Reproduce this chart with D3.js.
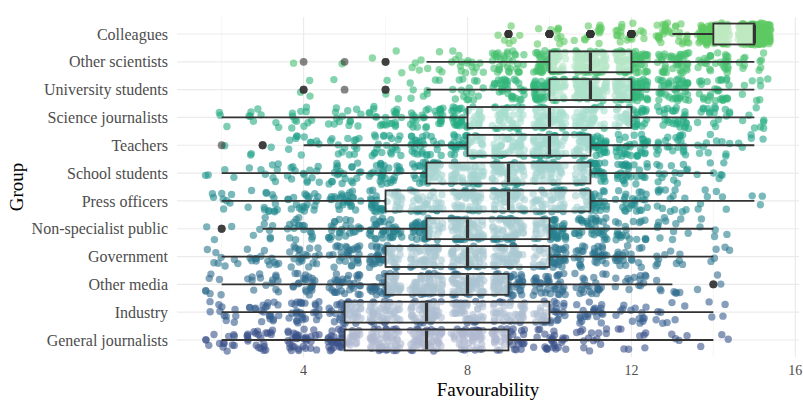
<!doctype html>
<html lang="en">
<head>
  <meta charset="utf-8">
  <title>Favourability by group</title>
  <style>
    body { margin: 0; background: #fff; }
    svg text { font-family: "Liberation Serif", "DejaVu Serif", serif; }
    .grid-major { stroke: #ebebeb; stroke-width: 1.2; }
    .grid-minor { stroke: #f2f2f2; stroke-width: 0.7; }
    .tick-label { fill: #4d4d4d; font-size: 14px; }
    .group-label { fill: #4d4d4d; font-size: 16px; }
    .axis-title { fill: #000; font-size: 19px; }
    .pt { opacity: 0.6; }
    .box { fill: #fff; fill-opacity: 0.6; stroke: #333; stroke-width: 1.8; }
    .whisker { stroke: #333; stroke-width: 1.8; }
    .median { stroke: #333; stroke-width: 3.2; }
    .outlier { fill: #333; opacity: 0.6; }
  </style>
</head>
<body>
<div id="chart"></div>
<script src="https://d3js.org/d3.v7.min.js"></script>
<script>
// groups, top to bottom as shown on the chart
const groups = ['Colleagues', 'Other scientists', 'University students', 'Science journalists',
  'Teachers', 'School students', 'Press officers', 'Non-specialist public', 'Government',
  'Other media', 'Industry', 'General journalists'];

// favourability scores the respondents could give
const scores = [2, 3, 4, 5, 6, 7, 8, 9, 10, 11, 12, 13, 14, 15];

// number of responses per score (2..15)
const colleagues          = [0, 0, 0, 0, 0, 0, 0, 6, 10, 13, 18, 32, 95, 200];
const otherScientists     = [0, 0, 1, 1, 3, 8, 16, 34, 62, 76, 70, 42, 28, 10];
const universityStudents  = [0, 0, 3, 1, 3, 8, 16, 34, 62, 76, 70, 42, 28, 8];
const scienceJournalists  = [3, 8, 11, 14, 22, 28, 42, 42, 49, 42, 39, 28, 17, 8];
const teachers            = [1, 3, 11, 14, 21, 28, 42, 49, 63, 56, 35, 21, 11, 5];
const schoolStudents      = [4, 8, 14, 21, 28, 42, 49, 56, 56, 42, 28, 14, 7, 0];
const pressOfficers       = [8, 14, 20, 25, 35, 39, 42, 45, 42, 39, 25, 14, 7, 3];
const nonSpecialistPublic = [3, 8, 17, 25, 35, 49, 63, 56, 49, 35, 21, 11, 5, 0];
const government          = [8, 14, 21, 28, 42, 49, 53, 49, 42, 31, 20, 10, 5, 0];
const otherMedia          = [7, 14, 22, 31, 45, 56, 63, 53, 35, 22, 14, 7, 3, 0];
const industry            = [11, 20, 28, 39, 45, 49, 45, 39, 31, 21, 14, 8, 4, 0];
const generalJournalists  = [14, 22, 34, 45, 53, 56, 49, 39, 25, 14, 8, 4, 3, 0];

const counts = [colleagues, otherScientists, universityStudents, scienceJournalists,
  teachers, schoolStudents, pressOfficers, nonSpecialistPublic, government,
  otherMedia, industry, generalJournalists];

// box plot statistics per group (same order as groups)
const lowerWhisker = [13, 7, 7, 2, 4, 2, 2, 3, 2, 2, 2, 2];
const lowerHinge   = [14, 10, 10, 8, 8, 7, 6, 7, 6, 6, 5, 5];
const medians      = [15, 11, 11, 10, 10, 9, 9, 8, 8, 8, 7, 7];
const upperHinge   = [15, 12, 12, 12, 11, 11, 11, 10, 10, 9, 10, 9];
const upperWhisker = [15, 15, 15, 15, 15, 14, 15, 14, 14, 13, 14, 14];

const xTicks = [4, 8, 12, 16];
const xMinor = [2, 6, 10, 14];

const width = 803;
const height = 400;
const panel = { left: 177, right: 799, top: 17, bottom: 357 };

const svg = d3.select('#chart')
  .append('svg')
  .attr('width', width)
  .attr('height', height);

const x = d3.scaleLinear()
  .domain([0.91, 16.09])
  .range([panel.left, panel.right]);

const y = d3.scalePoint()
  .domain(groups)
  .range([34, 340]);

const step = y.step();

// colour by group, taken from the middle part of viridis
const colorPos = d3.scaleLinear().domain([groups.length - 1, 0]).range([0.25, 0.75]);
const groupColor = i => d3.interpolateViridis(colorPos(i));

// grid
svg.append('g')
  .selectAll('line')
  .data(xMinor)
  .join('line')
  .attr('class', 'grid-minor')
  .attr('x1', d => x(d)).attr('x2', d => x(d))
  .attr('y1', panel.top).attr('y2', panel.bottom);

svg.append('g')
  .selectAll('line')
  .data(xTicks)
  .join('line')
  .attr('class', 'grid-major')
  .attr('x1', d => x(d)).attr('x2', d => x(d))
  .attr('y1', panel.top).attr('y2', panel.bottom);

svg.append('g')
  .selectAll('line')
  .data(groups)
  .join('line')
  .attr('class', 'grid-major')
  .attr('x1', panel.left).attr('x2', panel.right)
  .attr('y1', d => y(d)).attr('y2', d => y(d));

// expand counts into individual responses; the jitter comes from a fixed integer hash
// so the picture is the same on every run
const hash = n => {
  n = Math.imul(n ^ (n >>> 16), 0x45d9f3b);
  n = Math.imul(n ^ (n >>> 16), 0x45d9f3b);
  n ^= n >>> 16;
  return (n >>> 0) / 4294967296;
};
const points = [];
let idx = 0;
counts.forEach((row, gi) => {
  row.forEach((n, si) => {
    for (let k = 0; k < n; k++) {
      idx++;
      points.push({
        group: groups[gi],
        gi: gi,
        score: scores[si],
        jx: (hash(idx * 2 + 7919) * 2 - 1) * 0.4,
        jy: (hash(idx * 2 + 104729) * 2 - 1) * 0.4
      });
    }
  });
});

svg.append('g')
  .selectAll('circle')
  .data(points)
  .join('circle')
  .attr('class', 'pt')
  .attr('cx', d => x(d.score + d.jx))
  .attr('cy', d => y(d.group) + d.jy * step)
  .attr('r', 3.7)
  .attr('fill', d => groupColor(d.gi));

// box plots
const boxH = step * 0.75;
const boxes = svg.append('g')
  .selectAll('g')
  .data(groups)
  .join('g');

boxes.append('line')
  .attr('class', 'whisker')
  .attr('x1', (d, i) => x(lowerWhisker[i]))
  .attr('x2', (d, i) => x(lowerHinge[i]))
  .attr('y1', d => y(d)).attr('y2', d => y(d));

boxes.append('line')
  .attr('class', 'whisker')
  .attr('x1', (d, i) => x(upperHinge[i]))
  .attr('x2', (d, i) => x(upperWhisker[i]))
  .attr('y1', d => y(d)).attr('y2', d => y(d));

boxes.append('rect')
  .attr('class', 'box')
  .attr('x', (d, i) => x(lowerHinge[i]))
  .attr('width', (d, i) => x(upperHinge[i]) - x(lowerHinge[i]))
  .attr('y', d => y(d) - boxH / 2)
  .attr('height', boxH);

boxes.append('line')
  .attr('class', 'median')
  .attr('x1', (d, i) => x(medians[i])).attr('x2', (d, i) => x(medians[i]))
  .attr('y1', d => y(d) - boxH / 2 + 1)
  .attr('y2', d => y(d) + boxH / 2 - 1);

// outliers: every response outside the whiskers, one semi-transparent dot each
const outliers = points.filter(d => d.score < lowerWhisker[d.gi] || d.score > upperWhisker[d.gi]);
svg.append('g')
  .selectAll('circle')
  .data(outliers)
  .join('circle')
  .attr('class', 'outlier')
  .attr('cx', d => x(d.score))
  .attr('cy', d => y(d.group))
  .attr('r', 3.9);

// axis labels
svg.append('g')
  .selectAll('text')
  .data(groups)
  .join('text')
  .attr('class', 'group-label')
  .attr('x', 168)
  .attr('y', d => y(d))
  .attr('dy', '0.35em')
  .attr('text-anchor', 'end')
  .text(d => d);

svg.append('g')
  .selectAll('text')
  .data(xTicks)
  .join('text')
  .attr('class', 'tick-label')
  .attr('x', d => x(d))
  .attr('y', 375)
  .attr('text-anchor', 'middle')
  .text(d => d);

svg.append('text')
  .attr('class', 'axis-title')
  .attr('x', x(8.5))
  .attr('y', 396)
  .attr('text-anchor', 'middle')
  .text('Favourability');

svg.append('text')
  .attr('class', 'axis-title')
  .attr('transform', 'translate(23,' + ((panel.top + panel.bottom) / 2) + ') rotate(-90)')
  .attr('text-anchor', 'middle')
  .text('Group');
</script>
</body>
</html>
